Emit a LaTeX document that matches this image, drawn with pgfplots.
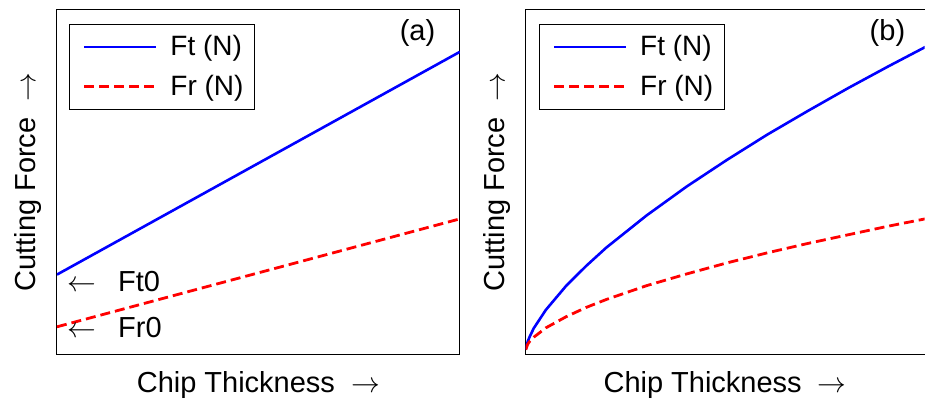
\documentclass[border=0pt]{standalone}
\usepackage{fontspec}
\setmainfont{Liberation Sans}
\usepackage{pgfplots}
\pgfplotsset{compat=1.18}
\pgfplotsset{
  panel/.style={scale only axis, height=173pt, xmin=0, xmax=1, ymin=0, ymax=1,
    xtick=\empty, ytick=\empty, anchor=south west, axis line style={line width=0.5pt},
    font=\fontsize{14.5}{17}\selectfont,
    xlabel={Chip Thickness\ \ $\rightarrow$}, ylabel={Cutting Force\ \ $\rightarrow$},
    x label style={at={(axis description cs:0.5,-0.087)}, anchor=center},
    y label style={at={(axis description cs:-0.072,0.5)}, anchor=center},
    legend style={draw=black, line width=0.5pt, font=\fontsize{14}{17}\selectfont,
      inner xsep=3.5pt, inner ysep=3.5pt, row sep=4pt, cells={anchor=west}},
    legend cell align=left},
  ftline/.style={color=blue, line width=1.3pt,
    legend image code/.code={\path[draw=none, fill=none] (0pt,-1pt) rectangle (45pt,1pt);
      \draw[blue, line width=1.3pt, solid] (4pt,0pt) -- (40pt,0pt);}},
  frline/.style={color=red, line width=1.4pt, dash pattern=on 5pt off 2.5pt,
    legend image code/.code={\path[draw=none, fill=none] (0pt,-1pt) rectangle (45pt,1pt);
      \draw[red, line width=1.4pt, dash pattern=on 5pt off 2.5pt] (4pt,0pt) -- (40pt,0pt);}},
}
\begin{document}
\begin{tikzpicture}
\path (0pt,0pt) rectangle (462.5pt,201.5pt);
% ---- panel (a)
\begin{axis}[panel, at={(28.5pt,24pt)}, width=201.5pt,
  legend style={at={(0.0298,0.9566)}, anchor=north west}]
\addplot[ftline] coordinates {(0,0.232) (0.5,0.554) (1,0.876)};
\addlegendentry{Ft (N)}
\addplot[frline] coordinates {(0,0.081) (0.5,0.237) (1,0.393)};
\addlegendentry{Fr (N)}
\node[anchor=center] at (axis cs:0.895,0.931) {(a)};
\node[anchor=west, inner sep=0pt] at (axis cs:0.025,0.211) {$\leftarrow$\hspace{11pt}Ft0};
\node[anchor=west, inner sep=0pt] at (axis cs:0.025,0.078) {$\leftarrow$\hspace{11pt}Fr0};
\end{axis}
% ---- panel (b)
\begin{axis}[panel, at={(263pt,24pt)}, width=199.5pt, xmax=0.990,
  axis x line*=box, axis y line*=left,
  legend style={at={(0.0326,0.9566)}, anchor=north west}]
\addplot[ftline] coordinates {(0,0.015) (0.005,0.039) (0.01,0.053) (0.02,0.077) (0.05,0.130)
  (0.1,0.199) (0.15,0.257) (0.2,0.310) (0.3,0.403) (0.4,0.487) (0.5,0.564) (0.6,0.637)
  (0.7,0.705) (0.8,0.771) (0.9,0.834) (1.0,0.895)};
\addlegendentry{Ft (N)}
\addplot[frline] coordinates {(0,0.015) (0.005,0.031) (0.01,0.039) (0.02,0.051) (0.05,0.078)
  (0.1,0.110) (0.15,0.137) (0.2,0.160) (0.3,0.200) (0.4,0.234) (0.5,0.266) (0.6,0.295)
  (0.7,0.322) (0.8,0.347) (0.9,0.372) (1.0,0.395)};
\addlegendentry{Fr (N)}
\node[anchor=center] at (axis cs:0.898,0.931) {(b)};
\end{axis}
\end{tikzpicture}
\end{document}
